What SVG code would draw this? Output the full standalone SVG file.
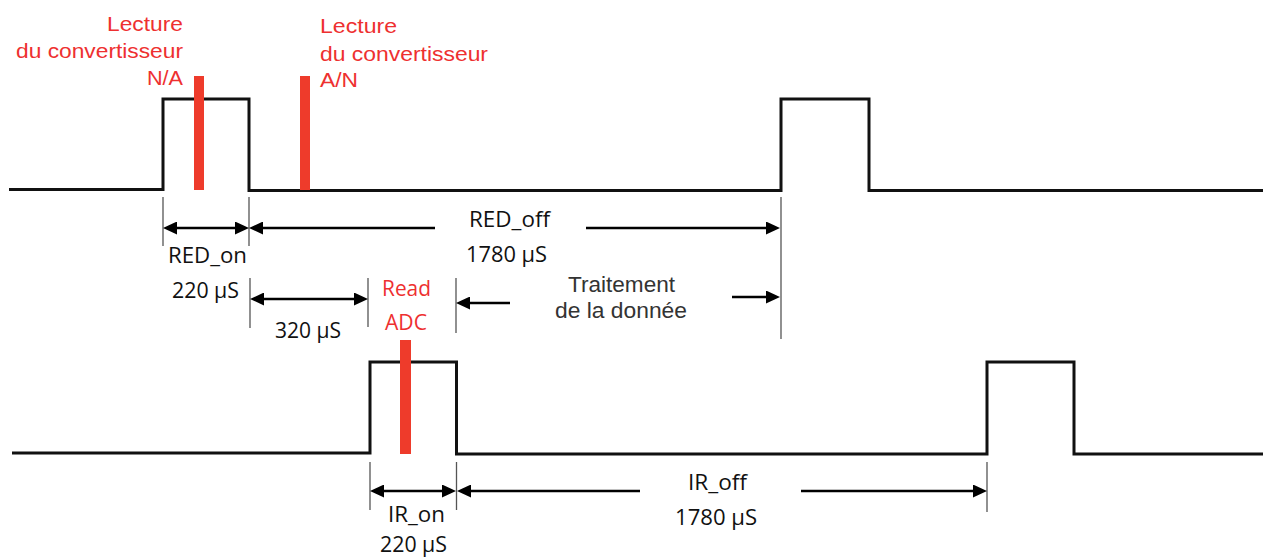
<svg xmlns="http://www.w3.org/2000/svg" width="1263" height="558" viewBox="0 0 1263 558">
<style>
.wave{fill:none;stroke:#111;stroke-width:3;stroke-linejoin:miter}
.bar{fill:#ee3b2b}
.tick{stroke:#555;stroke-width:1.3}
.arr{stroke:#000;stroke-width:2.6;fill:none}
.red{font-family:"Liberation Sans",Arial,sans-serif;font-size:21px;fill:#ee3030}
.redc{font-family:"Open Sans","Liberation Sans",sans-serif;font-size:21px;fill:#ee3030}
.lbl{font-family:"Open Sans","Liberation Sans",sans-serif;font-size:21px;fill:#111}
.gray{font-family:"Liberation Sans",Arial,sans-serif;font-size:22px;fill:#333}
</style>
<defs>
<marker id="ah" viewBox="0 0 14 13" refX="4" refY="6.5" markerWidth="14" markerHeight="13" markerUnits="userSpaceOnUse" orient="auto-start-reverse">
<path d="M0,0 L14,6.5 L0,13 z" fill="#000"/>
</marker>
</defs>

<g id="red-signal">
<polyline class="wave" points="9,189.5 163,189.5 163,99 249,99 249,190.5 781,190.5 781,99 869,99 869,190.5 1263,190.5"/>
</g>
<g id="ir-signal">
<polyline class="wave" points="12,453 370,453 370,362 456.5,362 456.5,454 987,454 987,362 1074,362 1074,454 1263,454"/>
</g>

<g id="read-markers">
<rect class="bar" x="194" y="76" width="10" height="114"/>
<rect class="bar" x="300" y="76" width="10" height="114"/>
<rect class="bar" x="400" y="340" width="11" height="114"/>
</g>

<g id="ticks">
<line class="tick" x1="163" y1="197" x2="163" y2="246"/>
<line class="tick" x1="249" y1="197" x2="249" y2="246"/>
<line class="tick" x1="781" y1="197" x2="781" y2="339"/>
<line class="tick" x1="250" y1="278" x2="250" y2="328"/>
<line class="tick" x1="368" y1="278" x2="368" y2="327"/>
<line class="tick" x1="456" y1="278" x2="456" y2="333"/>
<line class="tick" x1="370" y1="462" x2="370" y2="510"/>
<line class="tick" x1="456.5" y1="462" x2="456.5" y2="510"/>
<line class="tick" x1="987" y1="462" x2="987" y2="512"/>
</g>

<g id="connectors">
<line class="arr" x1="173" y1="228" x2="239" y2="228" marker-start="url(#ah)" marker-end="url(#ah)"/>
<line class="arr" x1="259" y1="228" x2="435" y2="228" marker-start="url(#ah)"/>
<line class="arr" x1="586" y1="228" x2="770" y2="228" marker-end="url(#ah)"/>
<line class="arr" x1="260" y1="299" x2="358" y2="299" marker-start="url(#ah)" marker-end="url(#ah)"/>
<line class="arr" x1="466" y1="303" x2="510" y2="303" marker-start="url(#ah)"/>
<line class="arr" x1="732" y1="297" x2="770" y2="297" marker-end="url(#ah)"/>
<line class="arr" x1="380" y1="491" x2="446" y2="491" marker-start="url(#ah)" marker-end="url(#ah)"/>
<line class="arr" x1="467" y1="491" x2="640" y2="491" marker-start="url(#ah)"/>
<line class="arr" x1="801" y1="491" x2="977" y2="491" marker-end="url(#ah)"/>
</g>

<g id="label-na">
<text class="red" x="107" y="31" textLength="76" lengthAdjust="spacingAndGlyphs">Lecture</text>
<text class="red" x="16" y="58" textLength="167" lengthAdjust="spacingAndGlyphs">du convertisseur</text>
<text class="red" x="147" y="85" textLength="36" lengthAdjust="spacingAndGlyphs">N/A</text>
</g>
<g id="label-an">
<text class="red" x="320" y="33" textLength="77" lengthAdjust="spacingAndGlyphs">Lecture</text>
<text class="red" x="320" y="61" textLength="168" lengthAdjust="spacingAndGlyphs">du convertisseur</text>
<text class="red" x="320" y="87" textLength="38" lengthAdjust="spacingAndGlyphs">A/N</text>
</g>
<g id="label-readadc">
<text class="redc" x="382" y="296" textLength="49" lengthAdjust="spacingAndGlyphs">Read</text>
<text class="redc" x="385" y="330" textLength="42" lengthAdjust="spacingAndGlyphs">ADC</text>
</g>
<g id="label-red-on">
<text class="lbl" x="168" y="263" textLength="79" lengthAdjust="spacingAndGlyphs">RED_on</text>
<text class="lbl" x="172" y="298" textLength="67" lengthAdjust="spacingAndGlyphs">220 µS</text>
</g>
<g id="label-red-off">
<text class="lbl" x="469" y="227" textLength="81" lengthAdjust="spacingAndGlyphs">RED_off</text>
<text class="lbl" x="466" y="262" textLength="81" lengthAdjust="spacingAndGlyphs">1780 µS</text>
</g>
<g id="label-320">
<text class="lbl" x="275" y="338" textLength="66" lengthAdjust="spacingAndGlyphs">320 µS</text>
</g>
<g id="label-traitement">
<text class="gray" x="568" y="292" textLength="107" lengthAdjust="spacingAndGlyphs">Traitement</text>
<text class="gray" x="555" y="318" textLength="132" lengthAdjust="spacingAndGlyphs">de la donnée</text>
</g>
<g id="label-ir-on">
<text class="lbl" x="388" y="522" textLength="57" lengthAdjust="spacingAndGlyphs">IR_on</text>
<text class="lbl" x="380" y="552" textLength="67" lengthAdjust="spacingAndGlyphs">220 µS</text>
</g>
<g id="label-ir-off">
<text class="lbl" x="688" y="490" textLength="59" lengthAdjust="spacingAndGlyphs">IR_off</text>
<text class="lbl" x="675" y="525" textLength="82" lengthAdjust="spacingAndGlyphs">1780 µS</text>
</g>
</svg>
